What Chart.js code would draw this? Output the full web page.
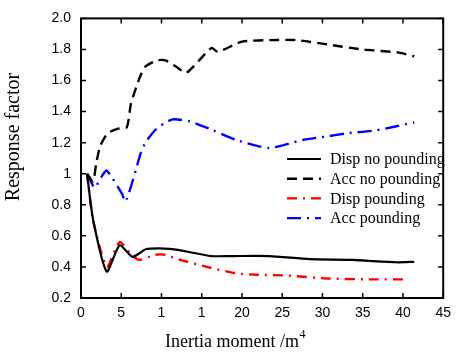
<!DOCTYPE html>
<html lang="en">
<head>
    <meta charset="UTF-8">
    <title>Response factor vs inertia moment</title>
    <style>
        body {
            margin: 0;
            background: #ffffff;
        }
        .chart-box {
            width: 458px;
            height: 355px;
            position: relative;
        }
    </style>
</head>
<body>
    <div class="chart-box">
        <canvas id="respChart"></canvas>
    </div>

    <script src="https://cdn.jsdelivr.net/npm/chart.js@4.4.3/dist/chart.umd.min.js"></script>
    <script>
        // Valores
        const dispNoX = [0.75, 1.5, 3.2, 4.8, 6.4, 8.1, 9.8, 11, 12, 16.2, 18.8, 23.4, 28.4, 33.7, 39.2, 41.4];
        const dispNoY = [1.0, 0.705, 0.37, 0.54, 0.465, 0.515, 0.52, 0.516, 0.51, 0.47, 0.47, 0.47, 0.45, 0.445, 0.43, 0.433];

        const accNoX = [0.75, 1.5, 1.9, 2.4, 3.3, 4.6, 5.7, 6.2, 7.3, 8.0, 9.5, 10.5, 11.8, 13.1, 16.2, 17, 20, 23.4, 26.8, 30.9, 35, 39.5, 41.4];
        const accNoY = [1.0, 0.95, 1.07, 1.18, 1.26, 1.29, 1.30, 1.45, 1.62, 1.69, 1.73, 1.73, 1.69, 1.65, 1.81, 1.785, 1.85, 1.86, 1.86, 1.83, 1.80, 1.78, 1.755];

        const dispPX = [0.75, 1.5, 3.2, 4.8, 6.4, 7.3, 9.2, 10.5, 12, 16, 19.3, 21.8, 25.5, 30.5, 35.8, 40.7];
        const dispPY = [1.0, 0.70, 0.40, 0.56, 0.47, 0.446, 0.478, 0.478, 0.45, 0.396, 0.358, 0.35, 0.345, 0.326, 0.32, 0.32];

        const accPX = [0.75, 1.7, 2.5, 3.2, 5.1, 5.5, 6.1, 6.9, 7.4, 8.0, 9.2, 10.2, 11.4, 13.5, 16.4, 19.3, 23.4, 27.5, 30.5, 33, 36.7, 41.4];
        const accPY = [1.0, 0.91, 0.977, 1.02, 0.87, 0.82, 0.90, 1.04, 1.13, 1.20, 1.28, 1.32, 1.35, 1.337, 1.28, 1.217, 1.166, 1.217, 1.24, 1.26, 1.28, 1.33];

        const seriesNames = ['Disp no pounding', 'Acc no pounding', 'Disp pounding', 'Acc pounding'];

        // Etiquetas de los ejes tal como aparecen
        const xTickLabels = ['0', '5', '1', '1', '20', '25', '30', '35', '40', '45'];
        const yTickLabels = ['0.2', '0.4', '0.6', '0.8', '1', '1.2', '1.4', '1.6', '1.8', '2.0'];

        const toPoints = (xs, ys) => xs.map((x, i) => ({ x: x, y: ys[i] }));

        const serif = "'Liberation Serif', 'Times New Roman', serif";
        const sans = "'Liberation Sans', Arial, sans-serif";

        // Marco con marcas hacia dentro, titulos y leyenda
        const framePlugin = {
            id: 'frameAndLegend',
            afterDraw: (chart) => {
                const ctx = chart.ctx;
                const a = chart.chartArea;
                const xs = chart.scales.x;
                const ys = chart.scales.y;
                const tl = 5;

                ctx.save();
                ctx.strokeStyle = '#000000';
                ctx.lineWidth = 2;
                ctx.strokeRect(a.left, a.top, a.right - a.left, a.bottom - a.top);

                ctx.lineWidth = 1.5;
                ctx.beginPath();
                xs.ticks.forEach((t) => {
                    const px = xs.getPixelForValue(t.value);
                    ctx.moveTo(px, a.bottom);
                    ctx.lineTo(px, a.bottom - tl);
                    ctx.moveTo(px, a.top);
                    ctx.lineTo(px, a.top + tl);
                });
                ys.ticks.forEach((t) => {
                    const py = ys.getPixelForValue(t.value);
                    ctx.moveTo(a.left, py);
                    ctx.lineTo(a.left + tl, py);
                    ctx.moveTo(a.right, py);
                    ctx.lineTo(a.right - tl, py);
                });
                ctx.stroke();

                // Titulo eje x con superindice
                ctx.fillStyle = '#000000';
                ctx.textBaseline = 'alphabetic';
                ctx.font = '18px ' + serif;
                const xt = 'Inertia moment /m';
                const w1 = ctx.measureText(xt).width;
                ctx.font = '12px ' + serif;
                const w2 = ctx.measureText('4').width;
                const xStart = 235 - (w1 + w2) / 2;
                ctx.font = '18px ' + serif;
                ctx.textAlign = 'left';
                ctx.fillText(xt, xStart, 347);
                ctx.font = '12px ' + serif;
                ctx.fillText('4', xStart + w1 + 0.5, 338);

                // Titulo eje y
                ctx.save();
                ctx.translate(14, 137);
                ctx.rotate(-Math.PI / 2);
                ctx.font = '20px ' + serif;
                ctx.textAlign = 'center';
                ctx.textBaseline = 'middle';
                ctx.fillText('Response factor', 0, 0);
                ctx.restore();

                // Leyenda dentro del area
                ctx.font = '16px ' + serif;
                ctx.textAlign = 'left';
                ctx.textBaseline = 'middle';
                chart.data.datasets.forEach((ds, i) => {
                    const y = 159 + i * 19.7;
                    ctx.save();
                    ctx.strokeStyle = ds.borderColor;
                    ctx.lineWidth = ds.borderWidth;
                    ctx.setLineDash(ds.borderDash || []);
                    ctx.beginPath();
                    ctx.moveTo(287, y);
                    ctx.lineTo(321, y);
                    ctx.stroke();
                    ctx.restore();
                    ctx.fillText(ds.label, 330, y + 1);
                });
                ctx.restore();
            }
        };

        const ctx = document.getElementById('respChart').getContext('2d');
        new Chart(ctx, {
            type: 'scatter',
            data: {
                datasets: [
                    {
                        label: seriesNames[0],
                        data: toPoints(dispNoX, dispNoY),
                        borderColor: '#000000',
                        borderWidth: 2.2
                    },
                    {
                        label: seriesNames[1],
                        data: toPoints(accNoX, accNoY),
                        borderColor: '#000000',
                        borderWidth: 2.4,
                        borderDash: [10, 6]
                    },
                    {
                        label: seriesNames[2],
                        data: toPoints(dispPX, dispPY),
                        borderColor: '#ff0000',
                        borderWidth: 2.4,
                        borderDash: [10, 6, 2, 6]
                    },
                    {
                        label: seriesNames[3],
                        data: toPoints(accPX, accPY),
                        borderColor: '#0000ff',
                        borderWidth: 2.4,
                        borderDash: [14, 6, 2, 6]
                    }
                ].map((d) => Object.assign(d, {
                    showLine: true,
                    pointRadius: 0,
                    pointHoverRadius: 0,
                    fill: false,
                    tension: 0.2
                }))
            },
            options: {
                responsive: true,
                maintainAspectRatio: false,
                animation: false,
                layout: {
                    padding: { left: 0, top: 13, right: 14, bottom: 0 }
                },
                plugins: {
                    legend: { display: false },
                    tooltip: { enabled: false }
                },
                scales: {
                    x: {
                        type: 'linear',
                        min: 0,
                        max: 45,
                        afterFit: (scale) => { scale.height = 57; },
                        grid: { display: false, drawTicks: false },
                        border: { display: false },
                        ticks: {
                            stepSize: 5,
                            padding: 7,
                            color: '#000000',
                            font: { family: sans, size: 14 },
                            maxRotation: 0,
                            callback: (v) => xTickLabels[Math.round(v / 5)]
                        }
                    },
                    y: {
                        type: 'linear',
                        min: 0.2,
                        max: 2.0,
                        afterFit: (scale) => { scale.width = 81; },
                        grid: { display: false, drawTicks: false },
                        border: { display: false },
                        ticks: {
                            stepSize: 0.2,
                            padding: 10,
                            color: '#000000',
                            font: { family: sans, size: 14 },
                            callback: (v) => yTickLabels[Math.round((v - 0.2) / 0.2)]
                        }
                    }
                }
            },
            plugins: [framePlugin]
        });
    </script>
</body>
</html>
